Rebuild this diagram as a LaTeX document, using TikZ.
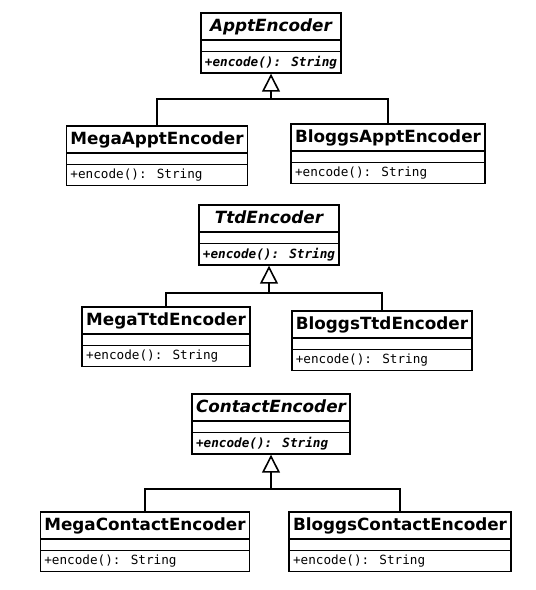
\documentclass[tikz,border=0pt]{standalone}
\usepackage{fontspec}
\usepackage{tikz}
\usetikzlibrary{arrows.meta, positioning, shapes.multipart}
\newfontfamily\umlsans{DejaVu Sans}[BoldFont={DejaVu Sans Bold}, ItalicFont={DejaVu Sans Oblique}, BoldItalicFont={DejaVu Sans Bold Oblique}]
\newfontfamily\umlmono{DejaVu Sans Mono}[BoldFont={DejaVu Sans Mono Bold}, ItalicFont={DejaVu Sans Mono Oblique}, BoldItalicFont={DejaVu Sans Mono Bold Oblique}]
\newcommand{\clsname}[1]{{\fontsize{12.6pt}{14pt}\umlsans\bfseries\rule[-3.3pt]{0pt}{14.2pt}#1}}
\newcommand{\absname}[1]{{\fontsize{12.6pt}{14pt}\umlsans\bfseries\itshape\rule[-3.3pt]{0pt}{14.2pt}#1}}
\newcommand{\clsop}[1]{{\fontsize{9.5pt}{11pt}\umlmono #1}}
\newcommand{\absop}[1]{{\fontsize{9.5pt}{11pt}\umlmono\bfseries\itshape #1}}
\newcommand{\noattr}{\makebox[0.1pt]{\rule{0pt}{2pt}}}
\tikzset{
    umlclass/.style={rectangle split, rectangle split parts=3, draw=black, line width=1.2pt, fill=white,
        inner xsep=3pt, inner ysep=2.6pt, rectangle split part align={center, left, left}, anchor=north},
    inherit/.style={line width=1.2pt, draw=black},
    generalize/.style={inherit, -{Triangle[open, length=13.5pt, width=13.5pt, line width=1.2pt]}}
}

\begin{document}
\begin{tikzpicture}[x=0.75pt, y=-0.75pt]
    \useasboundingbox (0,0) rectangle (536,590);
    % appointment encoders
    \node[umlclass] (appt) at (271,12) {\absname{ApptEncoder}\nodepart{two}\noattr\nodepart{three}\absop{+encode(): String}};
    \node[umlclass] (megaappt) at (157,125) {\clsname{MegaApptEncoder}\nodepart{two}\noattr\nodepart{three}\clsop{+encode(): String}};
    \node[umlclass] (bloggsappt) at (388,123) {\clsname{BloggsApptEncoder}\nodepart{two}\noattr\nodepart{three}\clsop{+encode(): String}};
    \coordinate (apptjoin) at (271,99);
    \draw[inherit] (megaappt.north) |- (apptjoin) -| (bloggsappt.north);
    \draw[generalize] (apptjoin) -- (appt.south);
    % to-do encoders
    \node[umlclass] (ttd) at (269,204) {\absname{TtdEncoder}\nodepart{two}\noattr\nodepart{three}\absop{+encode(): String}};
    \node[umlclass] (megattd) at (166,306) {\clsname{MegaTtdEncoder}\nodepart{two}\noattr\nodepart{three}\clsop{+encode(): String}};
    \node[umlclass] (bloggsttd) at (382,310) {\clsname{BloggsTtdEncoder}\nodepart{two}\noattr\nodepart{three}\clsop{+encode(): String}};
    \coordinate (ttdjoin) at (269,293);
    \draw[inherit] (megattd.north) |- (ttdjoin) -| (bloggsttd.north);
    \draw[generalize] (ttdjoin) -- (ttd.south);
    % contact encoders
    \node[umlclass] (contact) at (271,393) {\absname{ContactEncoder}\nodepart{two}\noattr\nodepart{three}\absop{+encode(): String}};
    \node[umlclass] (megacontact) at (145,511) {\clsname{MegaContactEncoder}\nodepart{two}\noattr\nodepart{three}\clsop{+encode(): String}};
    \node[umlclass] (bloggscontact) at (400,511) {\clsname{BloggsContactEncoder}\nodepart{two}\noattr\nodepart{three}\clsop{+encode(): String}};
    \coordinate (contactjoin) at (271,489);
    \draw[inherit] (megacontact.north) |- (contactjoin) -| (bloggscontact.north);
    \draw[generalize] (contactjoin) -- (contact.south);
\end{tikzpicture}
\end{document}
